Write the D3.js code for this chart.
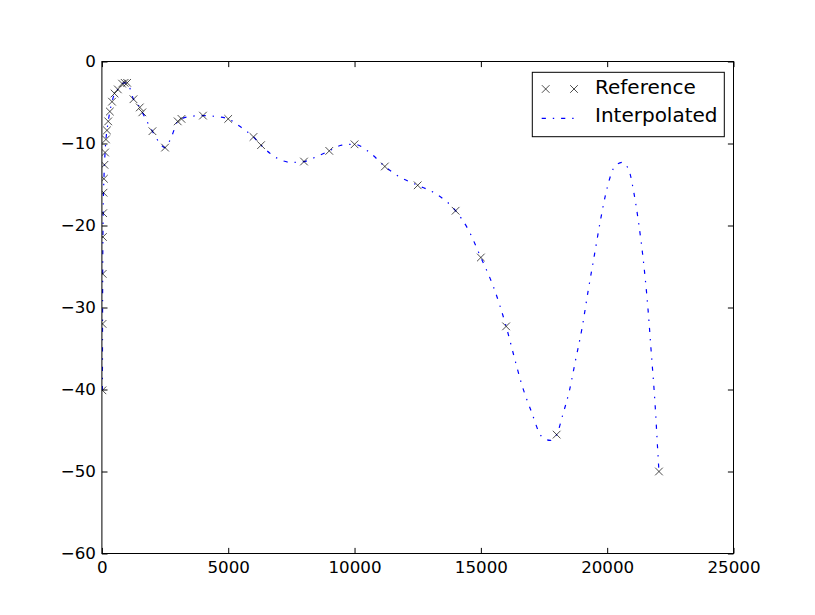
<!DOCTYPE html>
<html>
<head>
<meta charset="utf-8">
<script src="https://cdn.jsdelivr.net/npm/d3@7"></script>
<style>
  body { margin: 0; background: #fff; }
  text { font-family: "DejaVu Sans", sans-serif; }
</style>
</head>
<body>
<svg id="chart" width="815" height="615"></svg>
<script>
// reference measurements (frequency, level)
var refFreq = [20, 25, 31.5, 40, 50, 63, 80, 100, 125, 160, 200, 250, 315, 400, 500, 630, 800, 900, 1000,
	1250, 1500, 1600, 2000, 2500, 3000, 3150, 4000, 5000, 6000, 6300, 8000, 9000, 10000, 11200,
	12500, 14000, 15000, 16000, 18000, 22050];
var refLevel = [-40.1, -32.0, -25.9, -21.4, -18.5, -16.0, -14.3, -12.6, -11.1, -9.5, -8.4, -7.3, -6.1, -4.9, -3.9, -3.4, -2.7, -2.6, -2.6,
	-4.6, -5.6, -6.2, -8.5, -10.5, -7.3, -7.0, -6.6, -7.0, -9.2, -10.2, -12.2, -10.9, -10.1, -12.8,
	-15.1, -18.2, -23.9, -32.3, -45.5, -50.0];

// interpolated curve
var interpFreq = [20, 25, 31.5, 40, 50, 63, 80, 100, 125, 160, 200, 250, 315, 400, 500, 630, 800, 900, 1000,
	1250, 1500, 1600, 1800, 2000, 2250, 2500, 2750, 3000, 3150, 3500, 4000, 4500, 5000, 5500, 6000, 6300,
	7000, 7500, 8000, 8500, 9000, 9500, 10000, 10600, 11200, 11800, 12500, 13200, 14000, 14500, 15000,
	15500, 16000, 16300, 16600, 17000, 17400, 17750, 18000, 18250, 18500, 18750, 19000, 19250, 19500,
	19750, 20000, 20300, 20600, 20875, 21050, 21250, 21450, 21600, 21750, 21900, 22000, 22050];
var interpLevel = [-40.1, -32.0, -25.9, -21.4, -18.5, -16.0, -14.3, -12.6, -11.1, -9.5, -8.4, -7.3, -6.1, -4.9, -3.9, -3.4, -2.7, -2.6, -2.6,
	-4.6, -5.6, -6.2, -7.4, -8.5, -9.8, -10.5, -9.2, -7.3, -7.0, -6.7, -6.6, -6.7, -7.0, -8.0, -9.2, -10.2,
	-11.9, -12.3, -12.2, -11.6, -10.9, -10.2, -10.1, -11.1, -12.8, -14.1, -15.1, -16.1, -18.2, -20.5, -23.9,
	-27.5, -32.3, -35.8, -39.2, -42.7, -45.7, -46.2, -45.5, -43.0, -40.2, -36.4, -32.6, -27.9, -23.5,
	-19.1, -15.4, -12.8, -12.3, -13.4, -15.9, -19.8, -24.8, -29.6, -35.7, -42.0, -47.4, -50.0];

var xTicks = [0, 5000, 10000, 15000, 20000, 25000],
	yTicks = [0, -10, -20, -30, -40, -50, -60];

var svg = d3.select("#chart"),
	margin = {top: 61.5, right: 81.5, bottom: 61.5, left: 101.9},
	width = +svg.attr("width") - margin.left - margin.right,
	height = +svg.attr("height") - margin.top - margin.bottom;

svg.append("rect").attr("width", 815).attr("height", 615).attr("fill", "#fff");

var g = svg.append("g")
	.attr("transform", "translate(" + margin.left + "," + margin.top + ")");

g.append("clipPath").attr("id", "plot-clip")
	.append("rect").attr("width", width).attr("height", height);

var x = d3.scaleLinear().domain([0, 25000]).range([0, width]);
var y = d3.scaleLinear().domain([-60, 0]).range([height, 0]);

var fmt = d => d < 0 ? "\u2212" + Math.abs(d) : "" + d;

function styleAxis(sel, labels) {
	sel.select(".domain").remove();
	sel.selectAll(".tick line").attr("stroke", "#000").attr("stroke-width", 1);
	sel.selectAll(".tick text")
		.attr("fill", "#000")
		.style("font-size", "16.7px")
		.style("font-family", "DejaVu Sans, sans-serif");
	if (!labels) sel.selectAll(".tick text").remove();
}

g.append("g")
	.attr("transform", "translate(0," + height + ")")
	.call(d3.axisBottom(x).tickValues(xTicks).tickFormat(fmt).tickSizeInner(-5.6).tickSizeOuter(0).tickPadding(7.5))
	.call(s => styleAxis(s, true));

g.append("g")
	.call(d3.axisTop(x).tickValues(xTicks).tickSizeInner(-5.6).tickSizeOuter(0))
	.call(s => styleAxis(s, false));

g.append("g")
	.call(d3.axisLeft(y).tickValues(yTicks).tickFormat(fmt).tickSizeInner(-5.6).tickSizeOuter(0).tickPadding(6))
	.call(s => styleAxis(s, true));

g.append("g")
	.attr("transform", "translate(" + width + ",0)")
	.call(d3.axisRight(y).tickValues(yTicks).tickSizeInner(-5.6).tickSizeOuter(0))
	.call(s => styleAxis(s, false));

var interp = interpFreq.map((f, i) => [f, interpLevel[i]]);
var ref = refFreq.map((f, i) => [f, refLevel[i]]);

var dash = "4.2,6.9,1.4,6.9";

var plot = g.append("g").attr("clip-path", "url(#plot-clip)");

plot.append("path")
	.datum(interp)
	.attr("fill", "none")
	.attr("stroke", "#0000ff")
	.attr("stroke-width", 1.2)
	.attr("stroke-dasharray", dash)
	.attr("d", d3.line().x(d => x(d[0])).y(d => y(d[1])).curve(d3.curveMonotoneX));

var cross = d3.symbol().type(d3.symbolX).size(40);

plot.selectAll(".ref")
	.data(ref)
	.enter().append("path")
	.attr("class", "ref")
	.attr("transform", d => "translate(" + x(d[0]) + "," + y(d[1]) + ")")
	.attr("d", cross)
	.attr("fill", "none")
	.attr("stroke", "#000")
	.attr("stroke-width", 0.7);

// frame
g.append("rect")
	.attr("width", width).attr("height", height)
	.attr("fill", "none").attr("stroke", "#000").attr("stroke-width", 1);

// legend
var leg = svg.append("g").attr("transform", "translate(532.3,72.3)");
leg.append("rect")
	.attr("width", 192).attr("height", 64.4)
	.attr("fill", "#fff").attr("stroke", "#000").attr("stroke-width", 1);

leg.selectAll(".lm")
	.data([13.4, 41.7])
	.enter().append("path")
	.attr("transform", d => "translate(" + d + ",16.7)")
	.attr("d", cross)
	.attr("fill", "none").attr("stroke", "#000").attr("stroke-width", 0.7);

leg.append("line")
	.attr("x1", 9.4).attr("x2", 41.7).attr("y1", 46).attr("y2", 46)
	.attr("stroke", "#0000ff").attr("stroke-width", 1.2)
	.attr("stroke-dasharray", dash);

leg.append("text").attr("x", 62.7).attr("y", 22).style("font-size", "20px").text("Reference");
leg.append("text").attr("x", 62.7).attr("y", 50).style("font-size", "20px").text("Interpolated");
</script>
</body>
</html>
